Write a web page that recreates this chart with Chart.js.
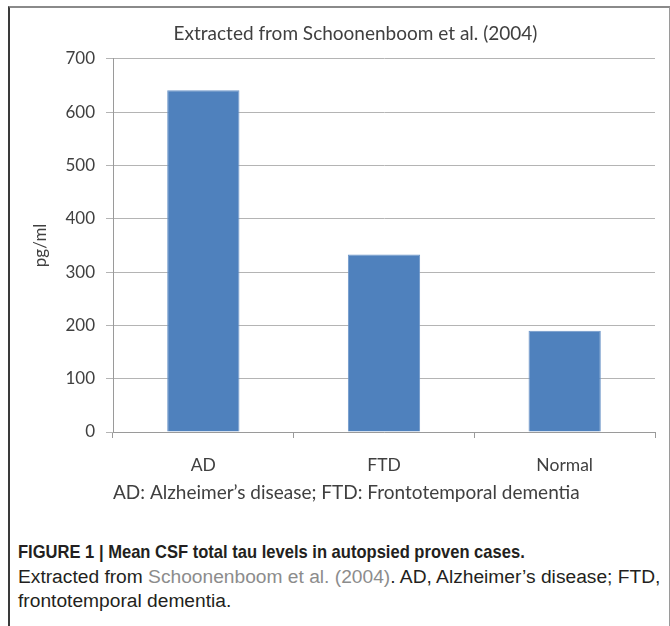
<!DOCTYPE html>
<html>
<head>
<meta charset="utf-8">
<script src="https://cdn.jsdelivr.net/npm/chart.js@4.4.1/dist/chart.umd.min.js"></script>
<style>
  html, body { margin: 0; padding: 0; background: #ffffff; }
  body { width: 670px; height: 626px; position: relative; overflow: hidden; }
  #frame {
    position: absolute; left: 8px; top: 6px; width: 659px; height: 640px;
    border-left: 2px solid #3a3a3a; border-top: 2px solid #8a8a8a; border-right: 2px solid #9a9a9a;
  }
  #chartBox { position: absolute; left: 10px; top: 7px; width: 659px; height: 510px; }
  #caption {
    position: absolute; left: 18px; top: 540px; width: 650px;
    font-family: "Liberation Sans Narrow", "Liberation Sans", Arial, sans-serif;
    color: #231f20; font-size: 19.2px; line-height: 24.5px;
  }
  #caption .bold { font-weight: bold; font-size: 18.6px; white-space: nowrap;
    transform: scaleX(0.89); transform-origin: 0 50%; }
  #caption .link { color: #8c8c8c; }
</style>
</head>
<body>
<div id="frame"></div>
<div id="chartBox"><canvas id="c" width="659" height="510"></canvas></div>
<div id="caption">
  <div class="bold">FIGURE 1 | Mean CSF total tau levels in autopsied proven cases.</div>
  <div>Extracted from <span class="link">Schoonenboom et al. (2004)</span>. AD, Alzheimer’s disease; FTD,</div>
  <div>frontotemporal dementia.</div>
</div>
<script>
const categories = ["AD", "FTD", "Normal"];
const tauValues = [641, 333, 190];
const yTicks = [0, 100, 200, 300, 400, 500, 600, 700];
const chartTitle = "Extracted from Schoonenboom et al. (2004)";
const xAxisTitle = "AD: Alzheimer’s disease; FTD: Frontotemporal dementia";
const yAxisTitle = "pg/ml";

const FONT = "Lato, 'Open Sans', sans-serif";
const TEXT = "#404040";

const shiftTitle = {
  id: "shiftTitle",
  afterLayout(chart) {
    if (chart.titleBlock) { chart.titleBlock.left += 46; }
  }
};

new Chart(document.getElementById("c"), {
  type: "bar",
  data: {
    labels: categories,
    datasets: [{
      data: tauValues,
      backgroundColor: "#4f81bd",
      borderColor: "#6d96c9",
      borderWidth: 1,
      categoryPercentage: 0.8,
      barPercentage: 0.5
    }]
  },
  plugins: [shiftTitle],
  options: {
    responsive: false,
    animation: false,
    devicePixelRatio: 1,
    layout: { padding: { left: 0, right: 14, top: 0, bottom: 0 } },
    plugins: {
      legend: { display: false },
      tooltip: { enabled: false },
      title: {
        display: true,
        text: chartTitle,
        color: TEXT,
        font: { family: FONT, size: 19, weight: "normal" },
        padding: { top: 15, bottom: 14 }
      }
    },
    scales: {
      x: {
        grid: {
          display: true,
          drawOnChartArea: false,
          drawTicks: true,
          tickLength: 6,
          color: "#9a9a9a",
          offset: true
        },
        border: { display: true, color: "#9a9a9a", width: 1 },
        ticks: {
          color: TEXT,
          font: { family: FONT, size: 17.5 },
          padding: 17
        },
        title: {
          display: true,
          text: xAxisTitle,
          color: TEXT,
          align: "start",
          font: { family: FONT, size: 19 },
          padding: { top: 0, bottom: 13 }
        },
        afterFit: (s) => { s.height = 85; }
      },
      y: {
        min: 0,
        max: 700,
        afterBuildTicks: (s) => { s.ticks = yTicks.map(v => ({ value: v })); },
        grid: {
          color: "#b4b4b4",
          drawTicks: true,
          tickLength: 7
        },
        border: { display: true, color: "#9a9a9a", width: 1 },
        ticks: {
          color: TEXT,
          font: { family: FONT, size: 17 },
          padding: 11
        },
        title: {
          display: true,
          text: yAxisTitle,
          color: TEXT,
          font: { family: FONT, size: 17 },
          padding: { top: 20, bottom: 0 }
        },
        afterFit: (s) => { s.width = 103; }
      }
    }
  }
});
</script>
</body>
</html>
